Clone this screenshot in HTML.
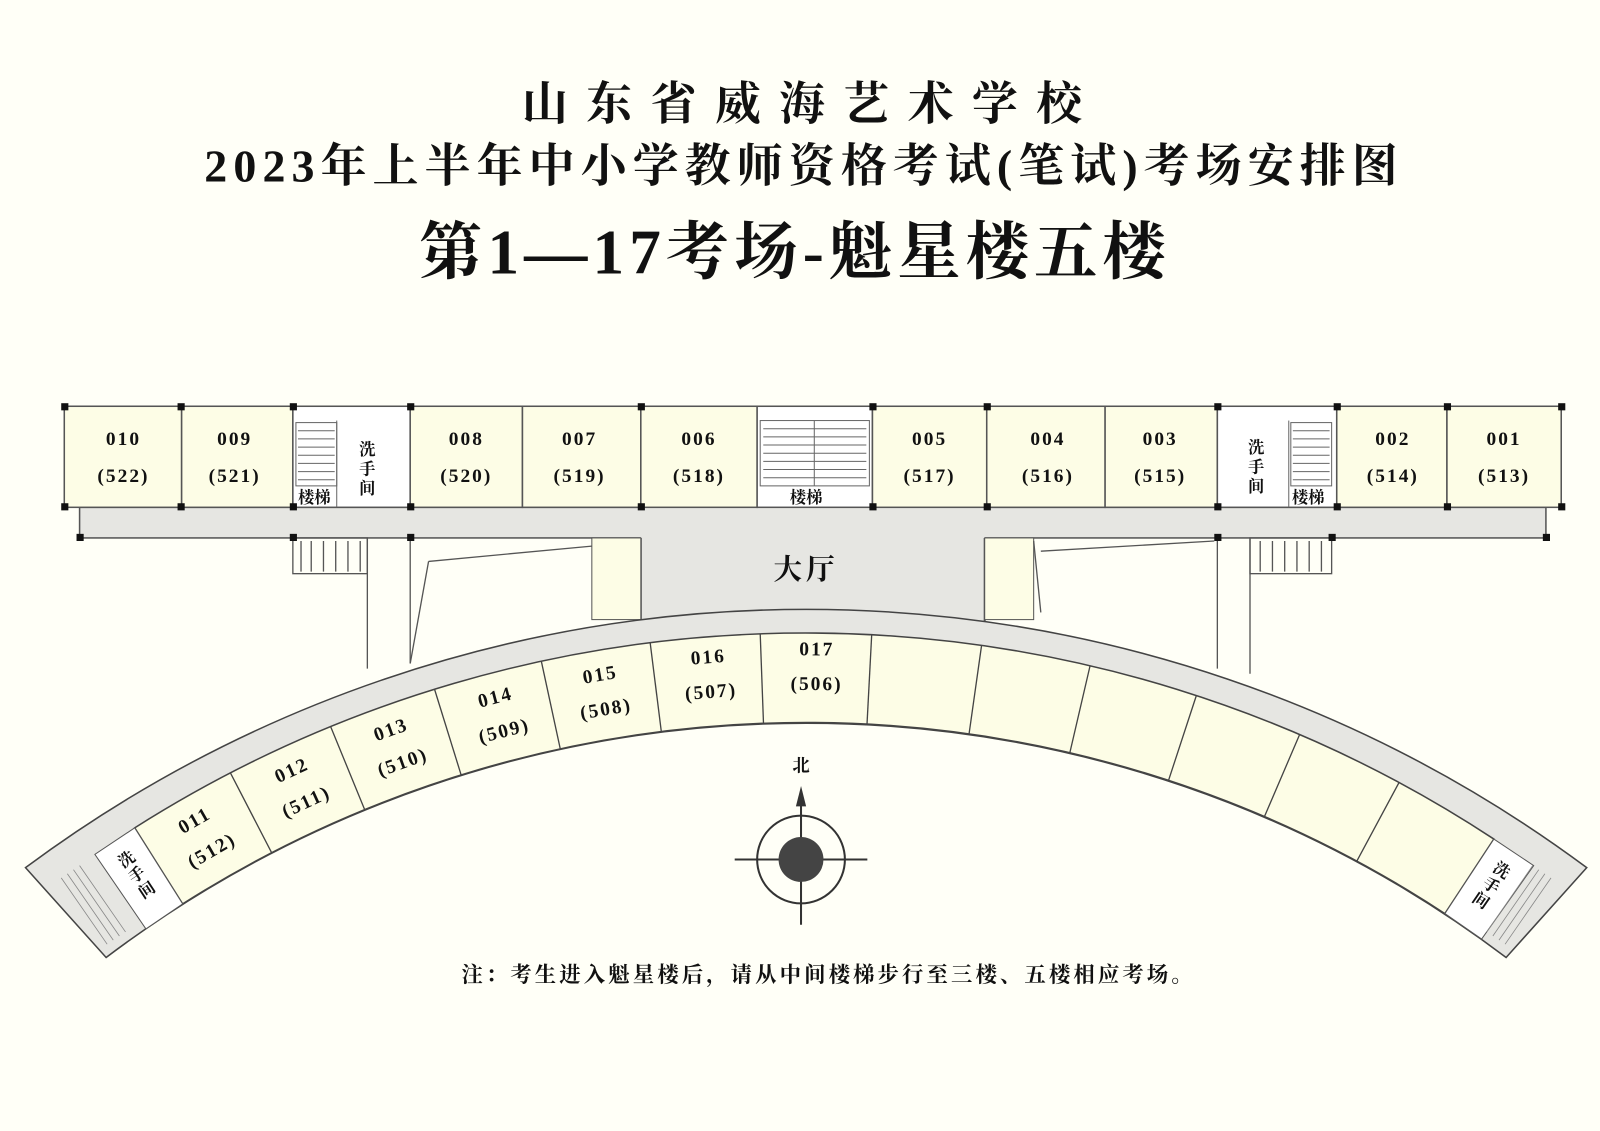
<!DOCTYPE html>
<html><head><meta charset="utf-8"><style>
html,body{margin:0;padding:0;background:#fffff7;}
svg{display:block}
text{font-family:"Liberation Serif","Noto Serif CJK SC",serif;font-weight:bold;fill:#111;}
</style></head><body>
<svg width="1600" height="1131" viewBox="0 0 1568 1108" preserveAspectRatio="none" xmlns="http://www.w3.org/2000/svg">
<rect width="1568" height="1108" fill="#fffff7"/>
<text x="795" y="117" font-size="45" text-anchor="middle" letter-spacing="18">山东省威海艺术学校</text>
<text x="788" y="178" font-size="45" text-anchor="middle" letter-spacing="6">2023年上半年中小学教师资格考试(笔试)考场安排图</text>
<text x="779" y="268" font-size="62" text-anchor="middle" letter-spacing="5">第1—17考场-魁星楼五楼</text>

<rect x="78" y="497" width="1437" height="30" fill="#e6e6e2" stroke="#555" stroke-width="1.5"/>
<rect x="628" y="497" width="337" height="130" fill="#e6e6e2"/>
<line x1="628" y1="527" x2="628" y2="610" stroke="#555" stroke-width="2"/>
<line x1="965" y1="527" x2="965" y2="610" stroke="#555" stroke-width="2"/>
<text x="790" y="567" font-size="28" text-anchor="middle" letter-spacing="4">大厅</text>
<rect x="580" y="527" width="48" height="80" fill="#fdfde6" stroke="#555"/>
<rect x="965" y="527" width="48" height="80" fill="#fdfde6" stroke="#555"/>
<g stroke="#555" fill="none" stroke-width="1.3">
<rect x="287" y="527" width="73" height="35"/>
<path d="M295 530v30M305 530v30M317 530v30M329 530v30M341 530v30M353 530v30"/>
<line x1="360" y1="527" x2="360" y2="655"/><line x1="402" y1="527" x2="402" y2="650"/>
<line x1="402" y1="650" x2="420" y2="550"/><line x1="420" y1="550" x2="580" y2="535"/>
<rect x="1225" y="527" width="80" height="35"/>
<path d="M1235 530v30M1247 530v30M1259 530v30M1271 530v30M1283 530v30M1295 530v30"/>
<line x1="1193" y1="527" x2="1193" y2="655"/><line x1="1225" y1="527" x2="1225" y2="660"/>
<line x1="1013" y1="530" x2="1020" y2="600"/><line x1="1020" y1="540" x2="1190" y2="530"/>
</g>
<g stroke="#555" stroke-width="1.5">
<rect x="63" y="398" width="115" height="99" fill="#fdfde6"/>
<rect x="178" y="398" width="109" height="99" fill="#fdfde6"/>
<rect x="287" y="398" width="115" height="99" fill="#fff"/>
<rect x="402" y="398" width="110" height="99" fill="#fdfde6"/>
<rect x="512" y="398" width="116" height="99" fill="#fdfde6"/>
<rect x="628" y="398" width="114" height="99" fill="#fdfde6"/>
<rect x="742" y="398" width="113" height="99" fill="#fff"/>
<rect x="855" y="398" width="112" height="99" fill="#fdfde6"/>
<rect x="967" y="398" width="116" height="99" fill="#fdfde6"/>
<rect x="1083" y="398" width="110" height="99" fill="#fdfde6"/>
<rect x="1193" y="398" width="117" height="99" fill="#fff"/>
<rect x="1310" y="398" width="108" height="99" fill="#fdfde6"/>
<rect x="1418" y="398" width="112" height="99" fill="#fdfde6"/>
</g>
<g stroke="#666" stroke-width="1" fill="none">
<rect x="290" y="414" width="40" height="62"/>
<path d="M292 422h36M292 430h36M292 438h36M292 446h36M292 454h36M292 462h36M292 470h36"/>
<line x1="330" y1="412" x2="330" y2="497"/>
<rect x="745" y="412" width="107" height="64"/>
<path d="M748 420h101M748 428h101M748 436h101M748 444h101M748 452h101M748 460h101M748 468h101"/>
<line x1="798" y1="412" x2="798" y2="476"/>
<rect x="1265" y="414" width="40" height="62"/>
<path d="M1267 422h36M1267 430h36M1267 438h36M1267 446h36M1267 454h36M1267 462h36M1267 470h36"/>
<line x1="1263" y1="412" x2="1263" y2="497"/>
</g>
<rect x="290" y="478" width="38" height="18" fill="#fff"/>
<rect x="770" y="478" width="40" height="18" fill="#fff"/>
<rect x="1264" y="478" width="38" height="18" fill="#fff"/>
<g font-size="16" text-anchor="middle">
<text x="308" y="493">楼梯</text><text x="790" y="493">楼梯</text><text x="1282" y="493">楼梯</text>
<text x="360" y="446">洗</text><text x="360" y="465">手</text><text x="360" y="484">间</text>
<text x="1231" y="444">洗</text><text x="1231" y="463">手</text><text x="1231" y="482">间</text>
</g>
<g font-size="19" text-anchor="middle" letter-spacing="2">
<text x="121" y="436">010</text><text x="121" y="472">(522)</text>
<text x="230" y="436">009</text><text x="230" y="472">(521)</text>
<text x="457" y="436">008</text><text x="457" y="472">(520)</text>
<text x="568" y="436">007</text><text x="568" y="472">(519)</text>
<text x="685" y="436">006</text><text x="685" y="472">(518)</text>
<text x="911" y="436">005</text><text x="911" y="472">(517)</text>
<text x="1027" y="436">004</text><text x="1027" y="472">(516)</text>
<text x="1137" y="436">003</text><text x="1137" y="472">(515)</text>
<text x="1365" y="436">002</text><text x="1365" y="472">(514)</text>
<text x="1474" y="436">001</text><text x="1474" y="472">(513)</text>
</g>
<g fill="#111">
<rect x="60" y="395" width="7" height="7"/><rect x="174" y="395" width="7" height="7"/><rect x="284" y="395" width="7" height="7"/><rect x="399" y="395" width="7" height="7"/><rect x="625" y="395" width="7" height="7"/><rect x="852" y="395" width="7" height="7"/><rect x="964" y="395" width="7" height="7"/><rect x="1190" y="395" width="7" height="7"/><rect x="1307" y="395" width="7" height="7"/><rect x="1415" y="395" width="7" height="7"/><rect x="1527" y="395" width="7" height="7"/>
<rect x="60" y="493" width="7" height="7"/><rect x="174" y="493" width="7" height="7"/><rect x="284" y="493" width="7" height="7"/><rect x="399" y="493" width="7" height="7"/><rect x="625" y="493" width="7" height="7"/><rect x="852" y="493" width="7" height="7"/><rect x="964" y="493" width="7" height="7"/><rect x="1190" y="493" width="7" height="7"/><rect x="1307" y="493" width="7" height="7"/><rect x="1415" y="493" width="7" height="7"/><rect x="1527" y="493" width="7" height="7"/>
<rect x="284" y="523" width="7" height="7"/><rect x="399" y="523" width="7" height="7"/><rect x="1190" y="523" width="7" height="7"/><rect x="1302" y="523" width="7" height="7"/><rect x="75" y="523" width="7" height="7"/><rect x="1512" y="523" width="7" height="7"/>
</g>

<path d="M25 850 A1283 1283 0 0 1 1555 850 L1476 938 A1140 1140 0 0 0 104 938 Z" fill="#e6e6e2" stroke="#444" stroke-width="1.5"/>
<path d="M132 811 A1228 1228 0 0 1 1464 822 L1416 895 A1140 1140 0 0 0 179 885.5 Z" fill="#fdfde6" stroke="#444" stroke-width="1.5"/>
<polygon points="132,811 93,837 143,910 179,885.5" fill="#fff" stroke="#555"/>
<polygon points="1464,822 1503,848 1452,920 1416,895" fill="#fff" stroke="#555"/>
<g stroke="#888" stroke-width="0.8">
<path d="M60 860l45 65M66 856l45 65M72 852l45 65M78 848l45 65"/>
<path d="M1520 860l-45 65M1514 856l-45 65M1508 852l-45 65M1502 848l-45 65"/>
</g>
<g stroke="#444" stroke-width="1.3">
<line x1="790" y1="708" x2="790" y2="620" transform="rotate(-27.35 790 1848)"/>
<line x1="790" y1="708" x2="790" y2="620" transform="rotate(-22.3 790 1848)"/>
<line x1="790" y1="708" x2="790" y2="620" transform="rotate(-17.25 790 1848)"/>
<line x1="790" y1="708" x2="790" y2="620" transform="rotate(-12.2 790 1848)"/>
<line x1="790" y1="708" x2="790" y2="620" transform="rotate(-7.15 790 1848)"/>
<line x1="790" y1="708" x2="790" y2="620" transform="rotate(-2.1 790 1848)"/>
<line x1="790" y1="708" x2="790" y2="620" transform="rotate(3.0 790 1848)"/>
<line x1="790" y1="708" x2="790" y2="620" transform="rotate(8.05 790 1848)"/>
<line x1="790" y1="708" x2="790" y2="620" transform="rotate(13.1 790 1848)"/>
<line x1="790" y1="708" x2="790" y2="620" transform="rotate(18.15 790 1848)"/>
<line x1="790" y1="708" x2="790" y2="620" transform="rotate(23.2 790 1848)"/>
<line x1="790" y1="708" x2="790" y2="620" transform="rotate(28.25 790 1848)"/>
</g>
<g font-size="19" text-anchor="middle" letter-spacing="2">
<g transform="rotate(-29.9 790 1848)"><text x="791" y="650">011</text><text x="791" y="684">(512)</text></g>
<g transform="rotate(-24.8 790 1848)"><text x="791" y="650">012</text><text x="791" y="684">(511)</text></g>
<g transform="rotate(-19.8 790 1848)"><text x="791" y="650">013</text><text x="791" y="684">(510)</text></g>
<g transform="rotate(-14.7 790 1848)"><text x="791" y="650">014</text><text x="791" y="684">(509)</text></g>
<g transform="rotate(-9.7 790 1848)"><text x="791" y="650">015</text><text x="791" y="684">(508)</text></g>
<g transform="rotate(-4.6 790 1848)"><text x="791" y="646">016</text><text x="791" y="680">(507)</text></g>
<g transform="rotate(0.45 790 1848)"><text x="791" y="642">017</text><text x="791" y="676">(506)</text></g>
</g>
<g font-size="16" text-anchor="middle">
<g transform="rotate(-33.5 790 1848)"><text x="790" y="647">洗</text><text x="790" y="665">手</text><text x="790" y="683">间</text></g>
<g transform="rotate(34.4 790 1848)"><text x="790" y="647">洗</text><text x="790" y="665">手</text><text x="790" y="683">间</text></g>
</g>

<g stroke="#333" fill="none" stroke-width="2">
<circle cx="785" cy="842" r="43"/>
<line x1="720" y1="842" x2="850" y2="842"/>
<line x1="785" y1="775" x2="785" y2="906"/>
</g>
<circle cx="785" cy="842" r="22" fill="#444"/>
<polygon points="785,770 780,790 790,790" fill="#333"/>
<text x="785" y="756" font-size="17" text-anchor="middle">北</text>

<text x="812" y="962" font-size="21" text-anchor="middle" letter-spacing="3">注：考生进入魁星楼后，请从中间楼梯步行至三楼、五楼相应考场。</text>
</svg>
</body></html>
